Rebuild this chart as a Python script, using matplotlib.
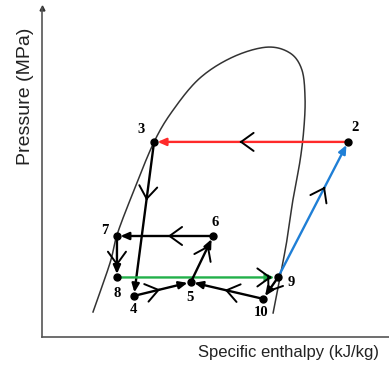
import numpy as np
import matplotlib.pyplot as plt

# cycle state points (enthalpy, pressure) in arbitrary units
states = ['2', '3', '4', '5', '6', '7', '8', '9', '10']
enthalpy = [88.2, 32.3, 26.5, 42.9, 49.3, 21.6, 21.6, 68.0, 63.7]
pressure = [59.3, 59.3, 12.5, 16.7, 30.7, 30.7, 18.1, 18.1, 11.6]

# saturation dome, liquid side up to the top and down the vapour side
dome_h = [14.7, 19.6, 21.6, 26.2, 32.3, 37.8, 45.5, 55.0, 64.8, 71.5,
          74.9, 75.8, 75.5, 74.4, 72.3, 70.6, 68.6, 66.6]
dome_p = [7.6, 22.5, 31.0, 43.8, 59.3, 69.0, 78.7, 85.1, 88.1, 86.3,
          81.2, 72.9, 63.8, 53.8, 41.6, 29.5, 18.2, 7.3]

# processes: from, to, colour, where the open chevron sits along the line
processes = [
    ('2', '3', '#ff2a2a', 0.56),
    ('3', '4', 'black', 0.38),
    ('9', '2', '#1f7fd6', 0.67),
    ('6', '7', 'black', 0.47),
    ('7', '8', 'black', 0.72),
    ('8', '9', '#22b04a', 0.96),
    ('4', '5', 'black', 0.46),
    ('10', '5', 'black', 0.53),
    ('5', '6', 'black', 0.80),
    ('9', '10', 'black', 0.70),
]

# label offsets in pixels
label_offsets = {'2': (7, 14), '3': (-13, 12), '4': (-1, -14), '5': (-1, -15),
                 '6': (2, 13), '7': (-12, 5), '8': (0, -16), '9': (13, -5),
                 '10': (-2, -14)}


def catmull_rom(xs, ys, n=20):
    pts = np.column_stack([xs, ys])
    pts = np.vstack([2 * pts[0] - pts[1], pts, 2 * pts[-1] - pts[-2]])
    out = []
    t = np.linspace(0, 1, n, endpoint=False)[:, None]
    for i in range(1, len(pts) - 2):
        p0, p1, p2, p3 = pts[i - 1], pts[i], pts[i + 1], pts[i + 2]
        seg = 0.5 * ((2 * p1) + (-p0 + p2) * t + (2 * p0 - 5 * p1 + 4 * p2 - p3) * t ** 2
                     + (-p0 + 3 * p1 - 3 * p2 + p3) * t ** 3)
        out.append(seg)
    out.append(pts[-2][None, :])
    out = np.vstack(out)
    return out[:, 0], out[:, 1]


fig = plt.figure(figsize=(3.89, 3.69), dpi=100)
ax = fig.add_axes([42 / 389, 1 - 337 / 369, 347 / 389, 329 / 369])
ax.set_xlim(0, 100)
ax.set_ylim(0, 100)
ax.set_xticks([])
ax.set_yticks([])
for side in ['top', 'right']:
    ax.spines[side].set_visible(False)
for side in ['left', 'bottom']:
    ax.spines[side].set_color('#555555')
    ax.spines[side].set_linewidth(1.2)
ax.plot([0], [100], marker='^', color='#333333', markersize=3.5, clip_on=False)

dh, dp = catmull_rom(dome_h, dome_p)
ax.plot(dh, dp, color='#333333', lw=1.1)

pos = {s: (h, p) for s, h, p in zip(states, enthalpy, pressure)}

for a, b, col, frac in processes:
    x0, y0 = pos[a]
    x1, y1 = pos[b]
    ax.annotate('', xy=(x1, y1), xytext=(x0, y0),
                arrowprops=dict(arrowstyle='-|>,head_length=0.5,head_width=0.22',
                                color=col, lw=1.7, shrinkA=0, shrinkB=2.5))
    # open chevron along the line
    cx, cy = x0 + frac * (x1 - x0), y0 + frac * (y1 - y0)
    bx, by = x0 + (frac - 0.01) * (x1 - x0), y0 + (frac - 0.01) * (y1 - y0)
    ax.annotate('', xy=(cx, cy), xytext=(bx, by),
                arrowprops=dict(arrowstyle='->,head_length=0.9,head_width=0.65',
                                color='black', lw=1.4, shrinkA=0, shrinkB=0))

ax.plot(enthalpy, pressure, 'o', color='black', markersize=5, zorder=5)

for s in states:
    ax.annotate(s, pos[s], xytext=label_offsets[s], textcoords='offset pixels',
                ha='center', va='center', fontsize=10.5, fontweight='bold',
                family='Liberation Serif')

fig.text(288 / 389, 1 - 352 / 369, 'Specific enthalpy (kJ/kg)', ha='center', va='center',
         fontsize=12, family='Liberation Sans', color='#222222')
fig.text(25 / 389, 1 - 96 / 369, 'Pressure (MPa)', ha='center', va='center',
         rotation=90, fontsize=14, family='Liberation Sans', color='#222222')

fig.savefig('out.png', dpi=100)
